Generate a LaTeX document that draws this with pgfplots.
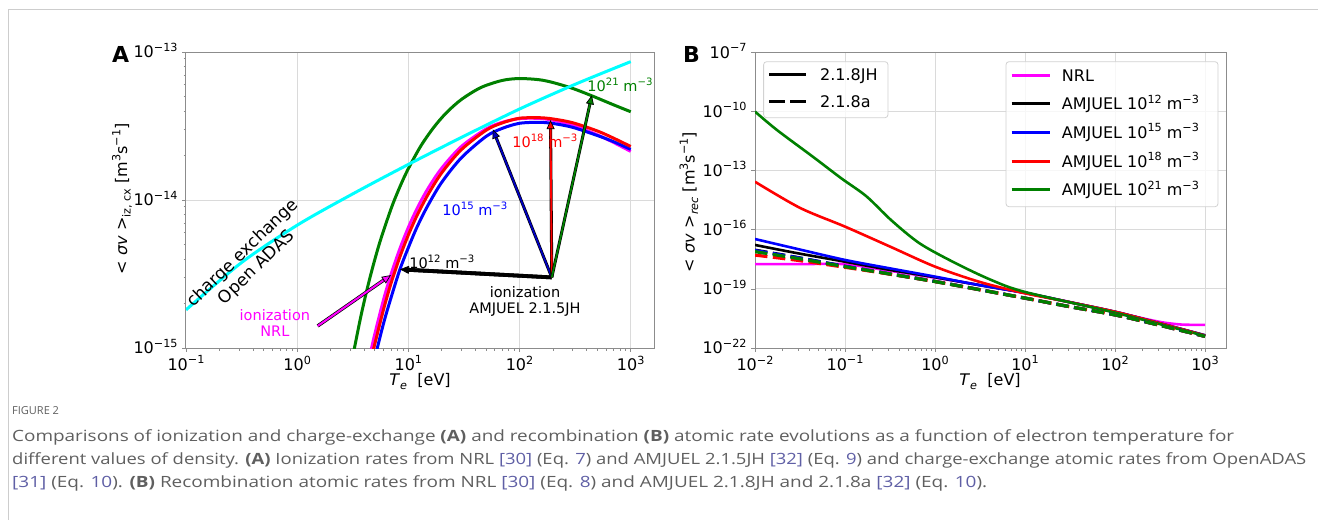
\documentclass[border=0pt]{standalone}
\usepackage{fontspec}
\setmainfont{DejaVu Sans}
\newfontfamily\capfont{Open Sans}
\usepackage{graphicx}
\usepackage{xcolor}
\usepackage{pgfplots}
\pgfplotsset{compat=1.18}
\usetikzlibrary{arrows.meta,calc}

\definecolor{mpgreen}{RGB}{0,128,0}
\definecolor{mpcyan}{RGB}{0,255,255}
\definecolor{mpmag}{RGB}{255,0,255}
\definecolor{mpblue}{RGB}{0,0,255}
\definecolor{mpred}{RGB}{255,0,0}
\definecolor{gridc}{RGB}{218,218,218}
\definecolor{framec}{RGB}{140,140,140}
\definecolor{legc}{RGB}{210,210,210}
\definecolor{capgray}{RGB}{95,95,95}
\definecolor{linkc}{RGB}{95,95,165}
\definecolor{boxc}{RGB}{205,205,205}

\newcommand{\sps}[1]{\raisebox{0.42em}{\scalebox{0.7}{#1}}}
\newcommand{\sbs}[1]{\raisebox{-0.22em}{\scalebox{0.7}{#1}}}
\newcommand{\tl}[1]{10\sps{#1}}
\newcommand{\tkf}{\fontsize{16bp}{19bp}\selectfont}
\newcommand{\annf}{\fontsize{14.5bp}{17bp}\selectfont}
\newcommand{\lk}[1]{\textcolor{linkc}{#1}}

\newcommand{\farrow}[5]{%
  \draw[line width=#4, black, shorten >=7bp] (#1) -- (#2);
  \draw[line width=#5, #3, shorten >=7bp] (#1) -- (#2);
  \draw[line width=0.7bp, black, -{Triangle[length=9bp,width=8bp,fill=#3]}] ($(#2)!9bp!(#1)$) -- (#2);}

\pgfplotsset{every axis/.append style={
  scale only axis,
  axis line style={framec, line width=1bp},
  tick style={framec, line width=0.8bp},
  tick align=outside, tick pos=left,
  major tick length=4bp, minor tick length=2.5bp,
  grid=major, major grid style={gridc, line width=1bp},
  tick label style={font=\tkf, text=black},
  xticklabel style={anchor=north, inner sep=0pt, yshift=-3.6bp},
  yticklabel style={anchor=base east, inner sep=0pt, xshift=-4.3bp, yshift=-5.85bp},
}}

\begin{document}
\begin{tikzpicture}
\path[use as bounding box] (0,0) rectangle (1318bp,520bp);
\draw[boxc, line width=1bp] (8bp,0bp) -- (8bp,510bp) -- (1318bp,510bp);

% ---------------- Panel A ----------------
\begin{axis}[at={(186bp,172bp)}, anchor=south west, width=468bp, height=296bp,
  xmode=log, ymode=log,
  xmin=0.1, xmax=1620, ymin=1e-15, ymax=1e-13,
  xtick={0.1,1,10,100,1000}, xticklabels={\tl{−1},\tl{0},\tl{1},\tl{2},\tl{3}},
  minor xtick={0.2,0.3,0.4,0.5,0.6,0.7,0.8,0.9,2,3,4,5,6,7,8,9,20,30,40,50,60,70,80,90,200,300,400,500,600,700,800,900},
  ytick={1e-15,1e-14,1e-13}, yticklabels={\tl{−15},\tl{−14},\tl{−13}},
  minor ytick={2e-15,3e-15,4e-15,5e-15,6e-15,7e-15,8e-15,9e-15,2e-14,3e-14,4e-14,5e-14,6e-14,7e-14,8e-14,9e-14},
]
% NRL ionization
\addplot[mpmag, line width=3bp, smooth] coordinates {(4.5,8.85e-16) (5,1.25e-15) (6,2.14e-15) (7,3.16e-15) (8.4,4.70e-15) (10,6.53e-15) (12,8.79e-15) (15,1.194e-14) (20,1.645e-14) (30,2.30e-14) (50,3.02e-14) (70,3.35e-14) (100,3.55e-14) (150,3.56e-14) (200,3.46e-14) (300,3.20e-14) (500,2.76e-14) (700,2.45e-14) (1000,2.13e-14)};
% AMJUEL 1e15
\addplot[mpblue, line width=3bp, smooth] coordinates {(5,8.6e-16) (6,1.48e-15) (7,2.2e-15) (8.4,3.4e-15) (10,4.77e-15) (12,6.6e-15) (15,9.2e-15) (20,1.32e-14) (30,1.93e-14) (50,2.69e-14) (70,3.05e-14) (100,3.30e-14) (150,3.35e-14) (200,3.29e-14) (300,3.10e-14) (500,2.73e-14) (700,2.48e-14) (1000,2.2e-14)};
% AMJUEL 1e18
\addplot[mpred, line width=3bp, smooth] coordinates {(4.7,8.8e-16) (5,1.07e-15) (6,1.84e-15) (7,2.75e-15) (8.4,4.14e-15) (10,5.81e-15) (12,7.9e-15) (15,1.087e-14) (20,1.53e-14) (30,2.19e-14) (50,2.96e-14) (70,3.32e-14) (100,3.57e-14) (150,3.60e-14) (200,3.53e-14) (300,3.33e-14) (500,2.93e-14) (700,2.62e-14) (1000,2.30e-14)};
% AMJUEL 1e21
\addplot[mpgreen, line width=3bp, smooth] coordinates {(3.0,7.0e-16) (3.3,1.03e-15) (3.8,1.73e-15) (4.5,2.96e-15) (5.5,5.1e-15) (7,8.75e-15) (8.4,1.23e-14) (10,1.63e-14) (13,2.33e-14) (17,3.11e-14) (22,3.89e-14) (30,4.78e-14) (45,5.76e-14) (70,6.43e-14) (100,6.62e-14) (150,6.5e-14) (200,6.22e-14) (300,5.68e-14) (450,5.05e-14) (700,4.4e-14) (1000,3.95e-14)};
% charge exchange
\addplot[mpcyan, line width=3bp, smooth] coordinates {(0.1,1.81e-15) (0.316,3.78e-15) (1,6.76e-15) (3.16,1.10e-14) (10,1.74e-14) (31.6,2.70e-14) (100,4.12e-14) (316,6.05e-14) (1000,8.61e-14)};

\coordinate (O) at (axis cs:195,3.0e-15);
\coordinate (T12) at (axis cs:8.4,3.4e-15);
\coordinate (T15) at (axis cs:57.6,3.0e-14);
\coordinate (T18) at (axis cs:190,3.47e-14);
\coordinate (T21) at (axis cs:447,5.1e-14);
\coordinate (N0) at (axis cs:1.53,1.41e-15);
\coordinate (N1) at (axis cs:6.97,3.11e-15);
\farrow{O}{T12}{black}{3.8bp}{3.8bp}
\farrow{O}{T15}{mpblue!75!black}{3.0bp}{1.8bp}
\farrow{O}{T18}{mpred}{3.0bp}{1.8bp}
\farrow{O}{T21}{mpgreen}{3.0bp}{1.8bp}
\farrow{N0}{N1}{mpmag}{3.4bp}{2.0bp}

\node[text=mpgreen, font=\annf] at (axis cs:800,5.98e-14) {10\sps{21} m\sps{−3}};
\node[text=mpred, font=\annf] at (axis cs:169,2.51e-14) {10\sps{18} m\sps{−3}};
\node[text=mpblue, font=\annf] at (axis cs:39.7,8.69e-15) {10\sps{15} m\sps{−3}};
\node[text=black, font=\annf] at (axis cs:20,3.81e-15) {10\sps{12} m\sps{−3}};
\node[text=black, font=\annf, align=center, inner sep=0pt] at (axis cs:112,2.08e-15) {ionization\\[-1pt]AMJUEL 2.1.5JH};
\node[text=mpmag, font=\annf, align=center, inner sep=0pt] at (axis cs:0.63,1.48e-15) {ionization\\[-1pt]NRL};
\node[text=black, font=\fontsize{17bp}{20bp}\selectfont, align=center, rotate=44, inner sep=0pt] at (axis cs:0.375,3.9e-15) {charge exchange\\Open ADAS};
\end{axis}

% ---------------- Panel B ----------------
\begin{axis}[at={(755bp,172bp)}, anchor=south west, width=471bp, height=295.5bp,
  xmode=log, ymode=log,
  xmin=0.01, xmax=1710, ymin=1e-22, ymax=1e-7,
  xtick={0.01,0.1,1,10,100,1000}, xticklabels={\tl{−2},\tl{−1},\tl{0},\tl{1},\tl{2},\tl{3}},
  minor xtick={0.02,0.03,0.04,0.05,0.06,0.07,0.08,0.09,0.2,0.3,0.4,0.5,0.6,0.7,0.8,0.9,2,3,4,5,6,7,8,9,20,30,40,50,60,70,80,90,200,300,400,500,600,700,800,900},
  ytick={1e-22,1e-19,1e-16,1e-13,1e-10,1e-7}, yticklabels={\tl{−22},\tl{−19},\tl{−16},\tl{−13},\tl{−10},\tl{−7}},
]
% NRL
\addplot[mpmag, line width=2.6bp, smooth] coordinates {(0.01,1.8e-18) (0.03,1.8e-18) (0.1,1.8e-18) (0.3,8.6e-19) (1,3.7e-19) (3,1.63e-19) (10,6.1e-20) (30,2.26e-20) (100,6.6e-21) (300,2.2e-21) (500,1.6e-21) (700,1.5e-21) (1000,1.49e-21)};
% AMJUEL 2.1.8JH solid
\addplot[black, line width=2.6bp, smooth] coordinates {(0.01,1.7e-17) (0.03,6.4e-18) (0.1,2.4e-18) (0.3,9.6e-19) (1,3.9e-19) (3,1.6e-19) (10,6.3e-20) (30,2.2e-20) (100,6.9e-21) (300,1.9e-21) (1000,4.4e-22)};
\addplot[mpblue, line width=2.6bp, smooth] coordinates {(0.01,3.4e-17) (0.03,1.05e-17) (0.1,2.95e-18) (0.3,1.15e-18) (1,4.2e-19) (3,1.6e-19) (10,6.3e-20) (30,2.2e-20) (100,6.9e-21) (300,1.9e-21) (1000,4.4e-22)};
\addplot[mpred, line width=2.6bp, smooth] coordinates {(0.01,2.75e-14) (0.0316,1.3e-15) (0.1,1.45e-16) (0.316,1.41e-17) (1,1.35e-18) (3.16,2.24e-19) (10,6.0e-20) (30,2.2e-20) (100,6.9e-21) (300,1.9e-21) (1000,4.3e-22)};
\addplot[mpgreen, line width=2.6bp, smooth] coordinates {(0.01,1.0e-10) (0.0175,1.17e-11) (0.044,5.1e-13) (0.091,4.1e-14) (0.173,5.0e-15) (0.328,3.0e-16) (0.68,2.0e-17) (1.7,2.0e-18) (4.24,2.8e-19) (10,7.0e-20) (100,6.2e-21) (1000,4.1e-22)};
% AMJUEL 2.1.8a dashed
\addplot[black, line width=3.2bp, dash pattern=on 12.5bp off 5.5bp, smooth] coordinates {(0.01,9.3e-18) (0.03,3.9e-18) (0.1,1.4e-18) (0.3,6.0e-19) (1,2.4e-19) (3,9.5e-20) (10,3.4e-20) (30,1.3e-20) (100,4.8e-21) (300,1.5e-21) (1000,3.9e-22)};
\addplot[mpblue, line width=3.2bp, dash pattern=on 12.5bp off 5.5bp, smooth] coordinates {(0.01,8.8e-18) (0.03,3.8e-18) (0.1,1.4e-18) (0.3,6.0e-19) (1,2.4e-19) (3,9.5e-20) (10,3.4e-20) (30,1.3e-20) (100,4.8e-21) (300,1.5e-21) (1000,3.9e-22)};
\addplot[mpred, line width=3.2bp, dash pattern=on 12.5bp off 5.5bp, smooth] coordinates {(0.01,5.2e-18) (0.03,2.8e-18) (0.1,1.25e-18) (0.3,5.8e-19) (1,2.35e-19) (3,9.4e-20) (10,3.4e-20) (30,1.3e-20) (100,4.8e-21) (300,1.5e-21) (1000,3.9e-22)};
\addplot[mpgreen, line width=3.2bp, dash pattern=on 12.5bp off 5.5bp, smooth] coordinates {(0.01,7.8e-18) (0.03,3.5e-18) (0.1,1.35e-18) (0.3,5.9e-19) (1,2.35e-19) (3,9.4e-20) (10,3.4e-20) (30,1.3e-20) (100,4.8e-21) (300,1.5e-21) (1000,3.9e-22)};
\end{axis}

% ---------------- labels ----------------
\node[anchor=base west, inner sep=0pt, font=\fontsize{22bp}{24bp}\selectfont\bfseries] at (112bp,457bp) {A};
\node[anchor=base west, inner sep=0pt, font=\fontsize{22bp}{24bp}\selectfont\bfseries] at (683bp,457bp) {B};
\node[rotate=90, font=\tkf, inner sep=0pt] at (122bp,321bp) {<\,\,\textit{σv}\,\,>\sbs{iz, cx} [m\sps{3}s\sps{−1}]};
\node[rotate=90, font=\tkf, inner sep=0pt] at (689bp,318bp) {<\,\,\textit{σv}\,\,>\sbs{\textit{rec}} [m\sps{3}s\sps{−1}]};
\node[anchor=base, font=\tkf, inner sep=0pt] at (420bp,134bp) {\textit{T}\sbs{\textit{e}}\,\, [eV]};
\node[anchor=base, font=\tkf, inner sep=0pt] at (990bp,134bp) {\textit{T}\sbs{\textit{e}}\,\, [eV]};

% ---------------- legends of B ----------------
\draw[rounded corners=3bp, draw=legc, fill=white, fill opacity=0.8, line width=0.8bp] (763.6bp,458.3bp) rectangle (888bp,402.3bp);
\draw[black, line width=3bp] (769bp,445bp) -- (805.7bp,445bp);
\draw[black, line width=3bp, dash pattern=on 15.5bp off 5.7bp] (769bp,418.3bp) -- (805.7bp,418.3bp);
\node[anchor=base west, inner sep=0pt, font=\tkf] at (820bp,439.15bp) {2.1.8JH};
\node[anchor=base west, inner sep=0pt, font=\tkf] at (820bp,412.45bp) {2.1.8a};

\draw[rounded corners=3bp, draw=legc, fill=white, fill opacity=0.8, line width=0.8bp] (1006bp,458.3bp) rectangle (1218bp,313.3bp);
\draw[mpmag, line width=3bp] (1011.7bp,444bp) -- (1050bp,444bp);
\draw[black, line width=3bp] (1011.7bp,416bp) -- (1050bp,416bp);
\draw[mpblue, line width=3bp] (1011.7bp,387.3bp) -- (1050bp,387.3bp);
\draw[mpred, line width=3bp] (1011.7bp,358.3bp) -- (1050bp,358.3bp);
\draw[mpgreen, line width=3bp] (1011.7bp,330bp) -- (1050bp,330bp);
\node[anchor=base west, inner sep=0pt, font=\tkf] at (1061.7bp,438.15bp) {NRL};
\node[anchor=base west, inner sep=0pt, font=\tkf] at (1061.7bp,410.15bp) {AMJUEL 10\sps{12} m\sps{−3}};
\node[anchor=base west, inner sep=0pt, font=\tkf] at (1061.7bp,381.45bp) {AMJUEL 10\sps{15} m\sps{−3}};
\node[anchor=base west, inner sep=0pt, font=\tkf] at (1061.7bp,352.45bp) {AMJUEL 10\sps{18} m\sps{−3}};
\node[anchor=base west, inner sep=0pt, font=\tkf] at (1061.7bp,324.15bp) {AMJUEL 10\sps{21} m\sps{−3}};

% ---------------- caption ----------------
\node[anchor=base west, inner sep=0pt] at (12bp,105bp) {\capfont\fontsize{11bp}{13bp}\selectfont\color{capgray}FIGURE 2};
\node[anchor=base west, inner sep=0pt] at (12bp,78bp) {\resizebox{1222bp}{\height}{\capfont\fontsize{15.5bp}{18bp}\selectfont\color{capgray}Comparisons of ionization and charge-exchange \textbf{(A)} and recombination \textbf{(B)} atomic rate evolutions as a function of electron temperature for}};
\node[anchor=base west, inner sep=0pt] at (12bp,55bp) {\resizebox{1294bp}{\height}{\capfont\fontsize{15.5bp}{18bp}\selectfont\color{capgray}different values of density. \textbf{(A)} Ionization rates from NRL \lk{[30]} (Eq. \lk{7}) and AMJUEL 2.1.5JH \lk{[32]} (Eq. \lk{9}) and charge-exchange atomic rates from OpenADAS}};
\node[anchor=base west, inner sep=0pt] at (12bp,32bp) {\resizebox{975bp}{\height}{\capfont\fontsize{15.5bp}{18bp}\selectfont\color{capgray}\lk{[31]} (Eq. \lk{10}). \textbf{(B)} Recombination atomic rates from NRL \lk{[30]} (Eq. \lk{8}) and AMJUEL 2.1.8JH and 2.1.8a \lk{[32]} (Eq. \lk{10}).}};
\end{tikzpicture}
\end{document}
